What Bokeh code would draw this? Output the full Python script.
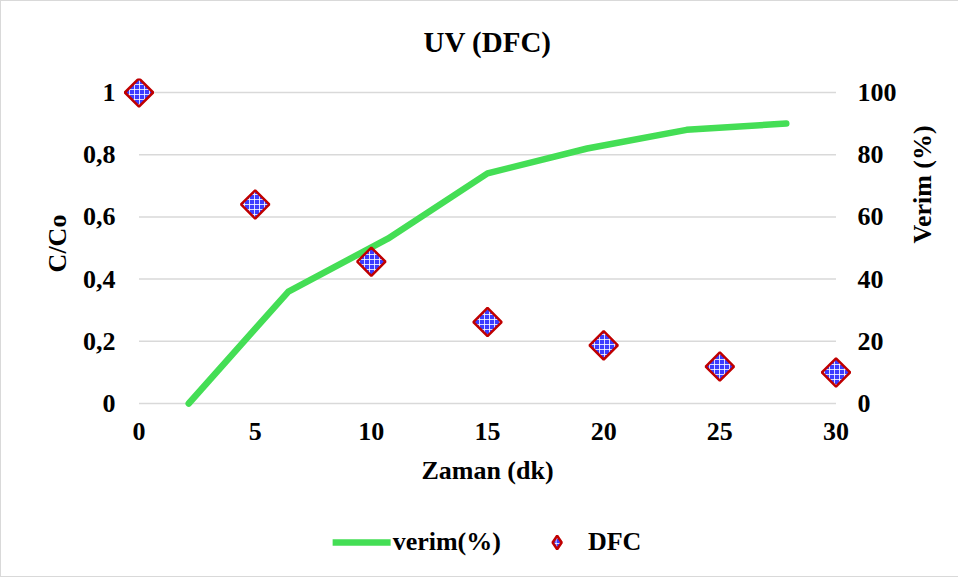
import math
from bokeh.plotting import figure
from bokeh.layouts import column
from bokeh.models import (Range1d, LinearAxis, FixedTicker, Legend, LegendItem)
from bokeh.embed import file_html
from bokeh.resources import INLINE

# ---- data ----
dfc_time = [0, 5, 10, 15, 20, 25, 30]
dfc_cco = [1.0, 0.64, 0.456, 0.262, 0.187, 0.119, 0.100]

verim_time = [2.14, 6.43, 10.71, 15.0, 19.29, 23.57, 27.86]
verim_pct = [0, 36, 53, 74, 82, 88, 90]

x_ticks = [0, 5, 10, 15, 20, 25, 30]
c_ticks = [0, 0.2, 0.4, 0.6, 0.8, 1.0]
c_tick_labels = ["0", "0,2", "0,4", "0,6", "0,8", "1"]
v_ticks = [0, 20, 40, 60, 80, 100]

FONT = "Liberation Serif"
GREEN = "#44DE55"
GRID = "#d9d9d9"

LINE_STYLE = dict(line_color=GREEN, line_width=6.5, line_cap="round", line_join="round")
MARK_FILL = dict(fill_color="#3c3cff", line_color="#c00000", line_width=2.5,
                 hatch_pattern="+", hatch_color="white", hatch_scale=5,
                 hatch_weight=1, hatch_alpha=0.8)

p = figure(width=958, height=507, output_backend="svg", toolbar_location=None,
           x_range=Range1d(-0.71, 30.71), y_range=Range1d(-0.016, 1.045),
           min_border_left=121, min_border_right=107,
           min_border_top=77, min_border_bottom=100,
           title="UV (DFC)")
p.styles = {"border-left": "1px solid #d9d9d9", "border-top": "1px solid #d9d9d9"}
p.outline_line_color = None
p.background_fill_color = "white"
p.border_fill_color = "white"

p.title.align = "center"
p.title.vertical_align = "middle"
p.title.text_font = FONT
p.title.text_font_size = "29px"
p.title.text_font_style = "bold"
p.title.text_color = "black"
p.title.standoff = 40

p.extra_y_ranges = {"verim": Range1d(-1.6, 104.5)}

p.xgrid.visible = False
p.ygrid.visible = False

# gridlines spanning the data extent
p.segment(x0=[x_ticks[0]] * len(c_ticks), x1=[x_ticks[-1]] * len(c_ticks),
          y0=c_ticks, y1=c_ticks, line_color=GRID, line_width=1.5)

def style_axis(ax):
    ax.axis_line_color = None
    ax.major_tick_line_color = None
    ax.minor_tick_line_color = None
    ax.major_tick_out = 0
    ax.major_tick_in = 0
    ax.minor_tick_out = 0
    ax.minor_tick_in = 0
    ax.major_label_text_font = FONT
    ax.major_label_text_font_size = "26px"
    ax.major_label_text_font_style = "bold"
    ax.major_label_text_color = "black"
    ax.axis_label_text_font = FONT
    ax.axis_label_text_font_size = "26px"
    ax.axis_label_text_font_style = "bold"
    ax.axis_label_text_color = "black"

xa = p.xaxis[0]
xa.ticker = FixedTicker(ticks=x_ticks)
xa.axis_label = "Zaman (dk)"
style_axis(xa)
xa.major_label_standoff = 14
xa.axis_label_standoff = 13

ya = p.yaxis[0]
ya.ticker = FixedTicker(ticks=c_ticks)
ya.major_label_overrides = {t: l for t, l in zip(c_ticks, c_tick_labels)}
ya.axis_label = "C/Co"
style_axis(ya)
ya.major_label_standoff = 7
ya.axis_label_standoff = 8

ra = LinearAxis(y_range_name="verim", ticker=FixedTicker(ticks=v_ticks),
                axis_label="Verim  (%)")
style_axis(ra)
ra.major_label_standoff = 5
ra.axis_label_standoff = 23
ra.axis_label_orientation = math.pi / 2
p.add_layout(ra, "right")

p.line(verim_time, verim_pct, y_range_name="verim", **LINE_STYLE)
p.scatter(dfc_time, dfc_cco, size=20, marker="square", angle=math.pi / 4, **MARK_FILL)

# ---- legend strip below the chart ----
# same series drawn off-screen here, only so the legend can show their glyphs
lg = figure(width=958, height=70, output_backend="svg", toolbar_location=None,
            x_range=Range1d(-10, -9), y_range=Range1d(-10, -9),
            x_axis_type=None, y_axis_type=None,
            min_border_left=55, min_border_right=0, min_border_top=0, min_border_bottom=0)
lg.styles = {"border-left": "1px solid #d9d9d9", "border-bottom": "1px solid #d9d9d9"}
lg.outline_line_color = None
lg.xgrid.visible = False
lg.ygrid.visible = False
lg_line = lg.line(verim_time, verim_pct, **LINE_STYLE)
lg_mark = lg.scatter(dfc_time, dfc_cco, size=20, marker="diamond", **MARK_FILL)

legend = Legend(items=[LegendItem(label="verim(%)", renderers=[lg_line]),
                       LegendItem(label="DFC", renderers=[lg_mark])],
                location="center", orientation="horizontal",
                glyph_width=58, glyph_height=34, label_standoff=2, spacing=27,
                padding=0, margin=0, border_line_alpha=0,
                background_fill_alpha=0,
                label_text_font=FONT, label_text_font_size="26px",
                label_text_font_style="bold", label_text_color="black")
lg.add_layout(legend, "center")

layout = column(p, lg, spacing=0)
open("out.html", "w").write(file_html(layout, INLINE))
